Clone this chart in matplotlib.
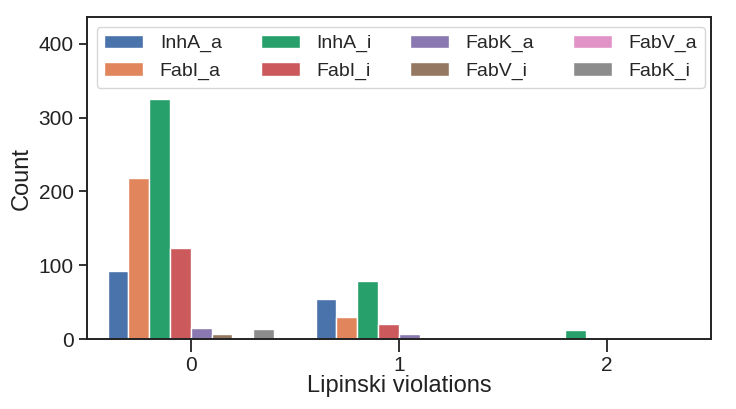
import matplotlib
matplotlib.use("Agg")
import matplotlib.pyplot as plt
import numpy as np
import seaborn as sns

sns.set_theme(style="ticks")
plt.rcParams['font.family'] = ['Liberation Sans', 'DejaVu Sans']

categories = ["0", "1", "2"]
series_names = ["InhA_a", "FabI_a", "InhA_i", "FabI_i", "FabK_a", "FabV_i", "FabV_a", "FabK_i"]
values = {
    "InhA_a": [92, 54, 1],
    "FabI_a": [218, 30, 0],
    "InhA_i": [325, 78, 12],
    "FabI_i": [123, 21, 0],
    "FabK_a": [15, 7, 0],
    "FabV_i": [7, 0, 0],
    "FabV_a": [1, 0, 0],
    "FabK_i": [13, 0, 1],
}
colors = ["#4a72ab", "#e1865c", "#28a06b", "#cc5a5c", "#8a78b0", "#957862", "#e192c6", "#8c8c8c"]

fig = plt.figure(figsize=(7.36, 4.09), dpi=100)
ax = fig.add_axes([0.118, 0.171, 0.848, 0.787])

n = len(series_names)
w = 0.8 / n
x = np.arange(len(categories))
for i, name in enumerate(series_names):
    ax.bar(x - 0.4 + w * (i + 0.5), values[name], width=w, color=colors[i],
           edgecolor="white", linewidth=1, label=name)

ax.set_xlim(-0.5, 2.5)
ax.set_ylim(0, 436)
ax.set_xticks(x)
ax.set_xticklabels(categories)
ax.set_yticks([0, 100, 200, 300, 400])
ax.tick_params(axis='both', labelsize=15, length=6, width=1.3, color='#222222',
               labelcolor='#222222')
ax.tick_params(axis='x', length=9)
for s in ax.spines.values():
    s.set_linewidth(1.4)
    s.set_color('#222222')
ax.set_xlabel("Lipinski violations", fontsize=17, color='#222222', labelpad=0)
ax.set_ylabel("Count", fontsize=17, color='#222222')
ax.legend(ncol=4, loc="upper left", bbox_to_anchor=(0.0, 1.0), fontsize=14,
          handlelength=2.0, handletextpad=0.85, columnspacing=2.0, borderaxespad=0.5)

fig.savefig("out.png", dpi=100)
